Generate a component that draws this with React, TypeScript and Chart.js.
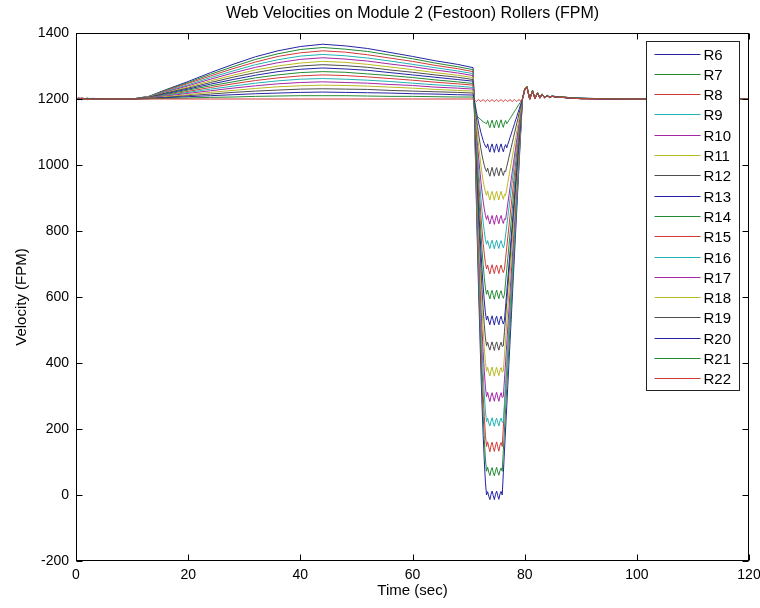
import React, { useEffect, useRef } from 'react';
import { Chart, registerables } from 'chart.js';

Chart.register(...registerables);

const TITLE = 'Web Velocities on Module 2 (Festoon) Rollers (FPM)';
const X_LABEL = 'Time (sec)';
const Y_LABEL = 'Velocity (FPM)';
const X_TICKS = [0, 20, 40, 60, 80, 100, 120];
const Y_TICKS = [-200, 0, 200, 400, 600, 800, 1000, 1200, 1400];
const SERIES_NAMES = ['R6', 'R7', 'R8', 'R9', 'R10', 'R11', 'R12', 'R13', 'R14', 'R15', 'R16', 'R17', 'R18', 'R19', 'R20', 'R21', 'R22'];
const COLOR_CYCLE = ['#2424a4', '#238a34', '#d23a3a', '#22b2b2', '#a526a5', '#b9b922', '#4c4c4c'];

const TIME = [
  0, 0.5, 1, 2, 3, 5, 10,
  13, 16, 20, 24, 28, 32, 36, 40, 44, 48, 52, 56, 60, 64, 68, 70.8,
  71, 71.2, 71.4, 71.6, 71.8, 72, 72.2, 72.4, 72.6, 72.8, 73, 73.2,
  73.4, 73.6, 73.8, 74, 74.2, 74.4, 74.6, 74.8, 75, 75.2, 75.4, 75.6, 75.8, 76,
  76.2, 76.4, 76.6, 76.8, 77, 77.2, 77.4, 77.6, 77.8, 78, 78.2, 78.4, 78.6, 78.8, 79, 79.2, 79.4, 79.6, 79.8, 80,
  80.4, 80.9, 81.4, 81.85, 82.3, 82.7, 83.1, 83.55, 84, 84.45, 84.9, 85.8, 86.7, 88, 90, 95, 100, 110, 120,
];

const R6 = [
  1203, 1198, 1202, 1199, 1201, 1200, 1200,
  1208, 1228, 1253, 1280, 1305, 1328, 1346, 1359, 1366, 1361, 1353, 1341, 1329, 1316, 1305, 1295,
  1191, 1036, 881, 738, 609, 492, 376, 272, 181, 104, 39, 0,
  10, -4, -14, 2, 12, -2, -14, 2, 12, -2, -13, 3, 11,
  0, 67, 133, 200, 267, 333, 400, 467, 533, 600, 667, 733, 800, 867, 933, 1000, 1067, 1133, 1200,
  1216, 1230,
  1239, 1199, 1227, 1201, 1220, 1202, 1216, 1203, 1212, 1204, 1210, 1206, 1207, 1204, 1202, 1201, 1200, 1200, 1200,
];
const R7 = [
  1201, 1203, 1199, 1202, 1200, 1201, 1200,
  1208, 1227, 1250, 1275, 1298, 1320, 1337, 1350, 1356, 1351, 1344, 1333, 1322, 1309, 1298, 1289,
  1192, 1046, 900, 766, 644, 535, 425, 328, 242, 169, 109, 72,
  84, 69, 59, 75, 83, 68, 58, 73, 84, 70, 60, 74, 82,
  72, 135, 197, 260, 323, 385, 448, 511, 573, 636, 699, 761, 824, 887, 949, 1012, 1075, 1137, 1200,
  1214, 1229,
  1237, 1200, 1226, 1202, 1219, 1203, 1215, 1204, 1211, 1205, 1209, 1206, 1206, 1203, 1202, 1201, 1200, 1200, 1200,
];
const R8 = [
  1199, 1202, 1201, 1198, 1201, 1200, 1200,
  1207, 1225, 1247, 1270, 1292, 1312, 1329, 1340, 1346, 1342, 1334, 1324, 1314, 1302, 1292, 1283,
  1192, 1056, 920, 795, 681, 579, 476, 386, 306, 238, 181, 147,
  161, 145, 131, 150, 160, 144, 132, 149, 161, 146, 133, 151, 159,
  147, 206, 264, 323, 381, 440, 498, 557, 615, 674, 732, 791, 849, 908, 966, 1025, 1083, 1142, 1200,
  1215, 1231,
  1238, 1198, 1225, 1200, 1219, 1202, 1215, 1203, 1212, 1204, 1209, 1205, 1206, 1203, 1201, 1200, 1200, 1200, 1200,
];
const R9 = [
  1202, 1199, 1203, 1200, 1199, 1201, 1200,
  1207, 1223, 1243, 1265, 1285, 1304, 1319, 1330, 1335, 1331, 1324, 1315, 1305, 1295, 1285, 1277,
  1193, 1066, 939, 823, 718, 623, 528, 444, 370, 306, 254, 222,
  233, 218, 209, 224, 234, 219, 208, 224, 233, 219, 209, 225, 233, 220,
  222, 280, 337, 395, 452, 510, 567, 625, 682, 740, 797, 855, 912, 970, 1027, 1085, 1142, 1200,
  1213, 1228,
  1236, 1201, 1224, 1203, 1218, 1204, 1214, 1205, 1211, 1205, 1209, 1206, 1205, 1203, 1202, 1200, 1200, 1200, 1200,
];
const R10 = [
  1200, 1203, 1198, 1201, 1202, 1200, 1200,
  1206, 1221, 1240, 1260, 1279, 1296, 1310, 1320, 1325, 1321, 1315, 1306, 1298, 1288, 1279, 1271,
  1193, 1076, 960, 853, 755, 668, 580, 502, 434, 376, 327, 298,
  311, 295, 283, 300, 310, 296, 284, 301, 311, 296, 284, 300, 310, 295,
  298, 351, 404, 457, 510, 563, 616, 669, 722, 775, 829, 882, 935, 988, 1041, 1094, 1147, 1200,
  1214, 1229,
  1237, 1199, 1226, 1201, 1218, 1203, 1215, 1204, 1211, 1206, 1208, 1205, 1206, 1204, 1201, 1201, 1200, 1200, 1200,
];
const R11 = [
  1198, 1201, 1202, 1200, 1199, 1201, 1200,
  1206, 1219, 1236, 1255, 1272, 1288, 1300, 1309, 1314, 1311, 1305, 1297, 1289, 1280, 1272, 1265,
  1194, 1087, 980, 882, 793, 713, 633, 562, 500, 446, 402, 375,
  387, 371, 361, 378, 388, 372, 360, 377, 387, 372, 362, 378, 386, 372,
  375, 424, 472, 521, 569, 618, 666, 715, 763, 812, 860, 909, 957, 1006, 1054, 1103, 1151, 1200,
  1212, 1227,
  1238, 1200, 1225, 1202, 1219, 1203, 1214, 1204, 1210, 1205, 1208, 1206, 1205, 1203, 1202, 1200, 1200, 1200, 1200,
];
const R12 = [
  1201, 1199, 1200, 1202, 1201, 1200, 1200,
  1205, 1218, 1233, 1250, 1266, 1280, 1292, 1300, 1304, 1301, 1296, 1288, 1281, 1273, 1266, 1259,
  1194, 1098, 1001, 912, 831, 759, 686, 622, 565, 517, 476, 452,
  463, 449, 439, 454, 464, 450, 438, 455, 464, 450, 439, 454, 463, 450,
  452, 496, 540, 584, 628, 672, 716, 760, 804, 848, 892, 936, 980, 1024, 1068, 1112, 1156, 1200,
  1213, 1228,
  1236, 1201, 1224, 1202, 1218, 1204, 1214, 1205, 1210, 1206, 1208, 1205, 1205, 1203, 1201, 1200, 1200, 1200, 1200,
];
const R13 = [
  1202, 1200, 1198, 1201, 1200, 1201, 1200,
  1205, 1216, 1230, 1245, 1259, 1272, 1283, 1290, 1294, 1291, 1287, 1280, 1273, 1266, 1259, 1254,
  1196, 1109, 1022, 943, 870, 805, 740, 682, 631, 588, 552, 530,
  542, 527, 516, 532, 543, 528, 515, 533, 542, 527, 516, 532, 542, 528, 518,
  530, 572, 614, 656, 698, 739, 781, 823, 865, 907, 949, 991, 1033, 1074, 1116, 1158, 1200,
  1212, 1227,
  1237, 1200, 1225, 1202, 1218, 1204, 1215, 1205, 1211, 1205, 1209, 1206, 1205, 1203, 1202, 1200, 1200, 1200, 1200,
];
const R14 = [
  1200, 1202, 1201, 1199, 1201, 1200, 1200,
  1204, 1214, 1227, 1240, 1252, 1264, 1273, 1280, 1283, 1281, 1276, 1271, 1265, 1258, 1252, 1247,
  1196, 1119, 1043, 972, 908, 851, 793, 742, 698, 659, 627, 608,
  621, 606, 594, 611, 620, 605, 593, 610, 621, 606, 595, 611, 619, 605, 596,
  608, 645, 682, 719, 756, 793, 830, 867, 904, 941, 978, 1015, 1052, 1089, 1126, 1163, 1200,
  1214, 1228,
  1238, 1199, 1226, 1201, 1219, 1203, 1215, 1204, 1211, 1205, 1208, 1205, 1206, 1204, 1202, 1201, 1200, 1200, 1200,
];
const R15 = [
  1199, 1201, 1203, 1200, 1200, 1199, 1200,
  1204, 1212, 1223, 1235, 1246, 1256, 1264, 1270, 1273, 1271, 1267, 1262, 1257, 1251, 1246, 1242,
  1197, 1131, 1064, 1003, 947, 897, 847, 802, 763, 730, 702, 685,
  697, 681, 670, 687, 698, 682, 671, 688, 697, 683, 671, 687, 697, 683, 674,
  685, 717, 749, 782, 814, 846, 878, 910, 943, 975, 1007, 1039, 1071, 1104, 1136, 1168, 1200,
  1213, 1228,
  1236, 1200, 1224, 1202, 1218, 1203, 1214, 1204, 1210, 1205, 1208, 1206, 1205, 1203, 1201, 1200, 1200, 1200, 1200,
];
const R16 = [
  1201, 1198, 1200, 1202, 1199, 1200, 1200,
  1203, 1211, 1220, 1230, 1239, 1248, 1255, 1260, 1262, 1260, 1257, 1253, 1248, 1243, 1239, 1235,
  1197, 1140, 1083, 1031, 983, 941, 898, 860, 827, 798, 774, 760,
  771, 757, 747, 763, 772, 758, 746, 762, 772, 757, 747, 763, 771, 758, 749,
  760, 788, 815, 843, 870, 898, 925, 953, 980, 1008, 1035, 1063, 1090, 1118, 1145, 1173, 1200,
  1214, 1229,
  1237, 1201, 1225, 1203, 1219, 1204, 1215, 1205, 1211, 1206, 1209, 1205, 1206, 1203, 1202, 1201, 1200, 1200, 1200,
];
const R17 = [
  1200, 1203, 1199, 1201, 1200, 1200, 1200,
  1203, 1209, 1217, 1225, 1233, 1240, 1246, 1250, 1252, 1250, 1248, 1244, 1241, 1236, 1233, 1230,
  1198, 1151, 1104, 1060, 1021, 985, 950, 918, 890, 867, 847, 835,
  847, 832, 821, 837, 847, 832, 820, 837, 848, 833, 822, 838, 847, 832, 823, 837,
  835, 859, 884, 908, 932, 957, 981, 1005, 1030, 1054, 1078, 1103, 1127, 1151, 1176, 1200,
  1212, 1227,
  1236, 1200, 1224, 1202, 1218, 1203, 1214, 1204, 1210, 1205, 1208, 1206, 1205, 1203, 1202, 1200, 1200, 1200, 1200,
];
const R18 = [
  1202, 1200, 1201, 1199, 1201, 1200, 1200,
  1202, 1207, 1213, 1220, 1226, 1232, 1237, 1240, 1242, 1241, 1239, 1236, 1233, 1229, 1226, 1224,
  1199, 1161, 1123, 1088, 1057, 1028, 1000, 974, 952, 933, 918, 908,
  921, 905, 894, 911, 920, 906, 893, 910, 920, 905, 894, 910, 920, 906, 896, 911,
  908, 927, 947, 966, 986, 1005, 1025, 1044, 1064, 1083, 1103, 1122, 1142, 1161, 1181, 1200,
  1213, 1228,
  1238, 1199, 1226, 1201, 1219, 1203, 1215, 1204, 1211, 1205, 1209, 1205, 1206, 1204, 1201, 1201, 1200, 1200, 1200,
];
const R19 = [
  1199, 1201, 1200, 1202, 1200, 1201, 1200,
  1202, 1205, 1210, 1215, 1220, 1224, 1227, 1230, 1231, 1230, 1229, 1226, 1224, 1222, 1220, 1218,
  1199, 1170, 1142, 1116, 1092, 1070, 1049, 1030, 1013, 999, 987, 980,
  991, 976, 966, 982, 993, 977, 966, 983, 992, 978, 967, 982, 991, 977, 968, 982,
  980, 995, 1009, 1024, 1039, 1053, 1068, 1083, 1097, 1112, 1127, 1141, 1156, 1171, 1185, 1200,
  1214, 1229,
  1237, 1201, 1225, 1202, 1218, 1204, 1214, 1205, 1210, 1206, 1208, 1205, 1205, 1203, 1202, 1200, 1200, 1200, 1200,
];
const R20 = [
  1201, 1199, 1202, 1200, 1201, 1200, 1200,
  1201, 1204, 1207, 1210, 1213, 1216, 1218, 1220, 1221, 1220, 1219, 1218, 1216, 1215, 1213, 1212,
  1199, 1180, 1161, 1143, 1127, 1113, 1098, 1086, 1074, 1065, 1057, 1052,
  1064, 1049, 1039, 1055, 1064, 1050, 1038, 1054, 1064, 1049, 1039, 1055, 1064, 1050, 1040, 1054, 1062,
  1052, 1063, 1073, 1084, 1094, 1105, 1115, 1126, 1137, 1147, 1158, 1168, 1179, 1189, 1200,
  1212, 1226,
  1236, 1200, 1224, 1202, 1218, 1203, 1214, 1204, 1210, 1205, 1208, 1206, 1205, 1203, 1201, 1200, 1200, 1200, 1200,
];
const R21 = [
  1200, 1202, 1199, 1201, 1200, 1200, 1200,
  1201, 1202, 1203, 1205, 1206, 1208, 1209, 1210, 1210, 1210, 1209, 1208, 1208, 1207, 1206, 1206,
  1185, 1160, 1152, 1147, 1143, 1140, 1137, 1134, 1131, 1129, 1127, 1125,
  1135, 1122, 1113, 1127, 1136, 1123, 1112, 1128, 1136, 1123, 1113, 1128, 1137, 1123, 1114, 1128, 1135,
  1125, 1130, 1136, 1141, 1146, 1152, 1157, 1163, 1168, 1173, 1179, 1184, 1189, 1195, 1200,
  1213, 1227,
  1237, 1201, 1225, 1203, 1219, 1204, 1215, 1205, 1211, 1206, 1209, 1205, 1206, 1204, 1202, 1201, 1200, 1200, 1200,
];
const R22 = [
  1201, 1200, 1202, 1199, 1200, 1200, 1200,
  1200, 1200, 1200, 1200, 1200, 1200, 1200, 1200, 1200, 1200, 1200, 1200, 1200, 1200, 1200, 1200,
  1198, 1195, 1192, 1196, 1198, 1195, 1192, 1196, 1198, 1195, 1192, 1196,
  1198, 1195, 1192, 1196, 1198, 1195, 1192, 1196, 1198, 1195, 1192, 1196,
  1198, 1195, 1192, 1196, 1198, 1195, 1192, 1196, 1198, 1195, 1192, 1196,
  1198, 1195, 1192, 1196, 1198, 1195, 1192,
  1200, 1211, 1225,
  1236, 1200, 1224, 1202, 1218, 1203, 1214, 1204, 1210, 1205, 1208, 1205, 1205, 1203, 1201, 1200, 1200, 1200, 1200,
];

const SERIES_VALUES = [R6, R7, R8, R9, R10, R11, R12, R13, R14, R15, R16, R17, R18, R19, R20, R21, R22];

const FONT = "'Liberation Sans', Arial, Helvetica, sans-serif";

const matlabFrame = {
  id: 'matlabFrame',
  afterDatasetsDraw(chart: any) {
    const { ctx, chartArea: a, scales } = chart;
    ctx.save();
    ctx.strokeStyle = '#000';
    ctx.lineWidth = 1;
    const L = Math.round(a.left) + 0.5;
    const R = Math.round(a.right) - 0.5;
    const T = Math.round(a.top) + 0.5;
    const B = Math.round(a.bottom) - 0.5;
    ctx.strokeRect(L, T, R - L, B - T);
    const tl = 6;
    ctx.beginPath();
    scales.x.ticks.forEach((t: any) => {
      const x = Math.round(scales.x.getPixelForValue(t.value)) + 0.5;
      ctx.moveTo(x, B); ctx.lineTo(x, B - tl);
      ctx.moveTo(x, T); ctx.lineTo(x, T + tl);
    });
    scales.y.ticks.forEach((t: any) => {
      const y = Math.round(scales.y.getPixelForValue(t.value)) + 0.5;
      ctx.moveTo(L, y); ctx.lineTo(L + tl, y);
      ctx.moveTo(R, y); ctx.lineTo(R - tl, y);
    });
    ctx.stroke();

    // legend
    const ds = chart.data.datasets;
    const bw = 93;
    const rowH = 20.3;
    const bh = Math.round(rowH * (ds.length - 1) + 24);
    const bx = Math.round(a.right) - 103 + 0.5;
    const by = Math.round(a.top) + 8 + 0.5;
    ctx.fillStyle = '#fff';
    ctx.fillRect(bx, by, bw, bh);
    ctx.strokeStyle = '#222';
    ctx.strokeRect(bx, by, bw, bh);
    ctx.font = `15px ${FONT}`;
    ctx.textBaseline = 'middle';
    ctx.textAlign = 'left';
    ds.forEach((d: any, k: number) => {
      const y = Math.round(by + 12 + k * rowH) + 0.5;
      ctx.strokeStyle = d.borderColor;
      ctx.beginPath();
      ctx.moveTo(bx + 8, y);
      ctx.lineTo(bx + 54, y);
      ctx.stroke();
      ctx.fillStyle = '#000';
      ctx.fillText(d.label, bx + 57, y + 1);
    });
    ctx.restore();
  },
};

export default function App() {
  const ref = useRef<HTMLCanvasElement | null>(null);
  useEffect(() => {
    if (!ref.current) return;
    const datasets = SERIES_NAMES.map((name, i) => ({
      label: name,
      data: TIME.map((t, j) => ({ x: t, y: SERIES_VALUES[i][j] })),
      borderColor: COLOR_CYCLE[i % COLOR_CYCLE.length],
      borderWidth: 1,
      pointRadius: 0,
      tension: 0,
      fill: false,
      order: SERIES_NAMES.length - i,
    }));
    const chart = new Chart(ref.current, {
      type: 'line',
      data: { datasets },
      options: {
        animation: false,
        responsive: false,
        maintainAspectRatio: false,
        devicePixelRatio: 1,
        layout: { padding: { left: 0, right: 11, top: 0, bottom: 0 } },
        plugins: {
          legend: { display: false },
          tooltip: { enabled: false },
          title: {
            display: true,
            fullSize: false,
            text: TITLE,
            color: '#000',
            font: { family: FONT, size: 16, weight: 'normal' },
            padding: { top: 4.4, bottom: 9.4 },
          },
        },
        scales: {
          x: {
            type: 'linear',
            min: X_TICKS[0],
            max: X_TICKS[X_TICKS.length - 1],
            afterBuildTicks: (s: any) => { s.ticks = X_TICKS.map((v) => ({ value: v })); },
            afterFit: (s: any) => { s.height = 47; s.paddingLeft = 0; s.paddingRight = 11; },
            grid: { display: false, drawTicks: false },
            border: { display: false },
            ticks: {
              color: '#000', font: { family: FONT, size: 14 }, padding: 6, maxRotation: 0, autoSkip: false,
              callback: (v: any) => String(v),
            },
            title: { display: true, text: X_LABEL, color: '#000', font: { family: FONT, size: 15 }, padding: { top: 0, bottom: 8 } },
          },
          y: {
            type: 'linear',
            min: Y_TICKS[0],
            max: Y_TICKS[Y_TICKS.length - 1],
            afterBuildTicks: (s: any) => { s.ticks = Y_TICKS.map((v) => ({ value: v })); },
            afterFit: (s: any) => { s.width = 76; },
            grid: { display: false, drawTicks: false },
            border: { display: false },
            ticks: {
              color: '#000', font: { family: FONT, size: 14 }, padding: 7, autoSkip: false,
              callback: (v: any) => String(v),
            },
            title: { display: true, text: Y_LABEL, color: '#000', font: { family: FONT, size: 15 }, padding: { top: 13, bottom: 0 } },
          },
        },
      },
      plugins: [matlabFrame],
    } as any);
    return () => chart.destroy();
  }, []);
  return (
    <div style={{ position: 'absolute', left: 0, top: 0, width: 760, height: 608, background: '#fff' }}>
      <canvas ref={ref} width={760} height={608} style={{ display: 'block', width: 760, height: 608 }} />
    </div>
  );
}
